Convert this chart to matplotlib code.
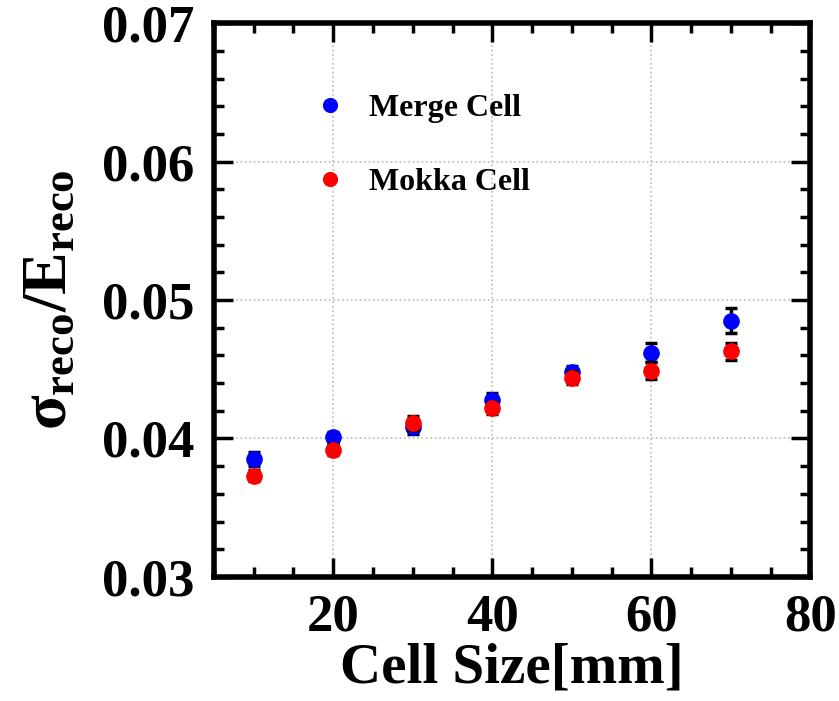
import matplotlib
matplotlib.use('Agg')
import matplotlib.pyplot as plt
from matplotlib.ticker import MultipleLocator

# cell size [mm]
cell_size = [10, 20, 30, 40, 50, 60, 70]

# sigma/E for merged cells and mokka cells
merge_res = [0.0385, 0.0401, 0.0408, 0.0428, 0.0448, 0.0462, 0.0485]
merge_err = [0.0005, 0.0004, 0.0005, 0.0005, 0.0004, 0.0007, 0.0009]
mokka_res = [0.0373, 0.0392, 0.0411, 0.0422, 0.0444, 0.0449, 0.0463]
mokka_err = [0.0004, 0.0004, 0.0005, 0.0004, 0.0005, 0.0006, 0.0006]

plt.rcParams['font.family'] = ['Liberation Serif', 'DejaVu Serif']
plt.rcParams['font.weight'] = 'bold'
plt.rcParams['mathtext.fontset'] = 'custom'
plt.rcParams['mathtext.rm'] = 'Liberation Serif:bold'
plt.rcParams['mathtext.it'] = 'Liberation Serif:bold'
plt.rcParams['mathtext.bf'] = 'Liberation Serif:bold'

fig = plt.figure(figsize=(8.39, 7.01), dpi=100)
ax = fig.add_axes([0.255, 0.177, 0.711, 0.790])

ax.errorbar(cell_size, merge_res, yerr=merge_err, fmt='none', ecolor='black',
            elinewidth=2.5, capsize=4, capthick=2.5, zorder=2)
ax.plot(cell_size, merge_res, 'o', color='blue', markersize=11, label='Merge Cell', zorder=3)
ax.errorbar(cell_size, mokka_res, yerr=mokka_err, fmt='none', ecolor='black',
            elinewidth=2.5, capsize=4, capthick=2.5, zorder=4)
ax.plot(cell_size, mokka_res, 'o', color='red', markersize=11, label='Mokka Cell', zorder=5)

ax.set_xlim(5, 80)
ax.set_ylim(0.03, 0.07)
ax.xaxis.set_minor_locator(MultipleLocator(5))
ax.yaxis.set_minor_locator(MultipleLocator(0.002))
ax.set_xticks([20, 40, 60, 80])
ax.set_yticks([0.03, 0.04, 0.05, 0.06, 0.07])
ax.set_yticklabels(['0.03', '0.04', '0.05', '0.06', '0.07'])

ax.grid(True, which='major', linestyle=':', color='#bbbbbb', linewidth=1.2)
ax.tick_params(which='both', direction='in', top=True, right=True, width=2.5)
ax.tick_params(which='major', length=14, labelsize=38)
ax.tick_params(axis='x', which='major', pad=12)
ax.tick_params(axis='y', which='major', pad=14)
ax.tick_params(which='minor', length=7)
for sp in ax.spines.values():
    sp.set_linewidth(4)

ax.set_xlabel('Cell Size[mm]', fontsize=41, fontweight='bold', labelpad=1)
ax.set_ylabel(r'$\sigma_{reco}/E_{reco}$', fontsize=46, labelpad=16)

ax.legend(loc='upper left', bbox_to_anchor=(0.12, 0.925), frameon=False,
          fontsize=23, handletextpad=0.7, labelspacing=1.4, handlelength=1,
          markerscale=0.9)

fig.savefig('out.png', dpi=100)
